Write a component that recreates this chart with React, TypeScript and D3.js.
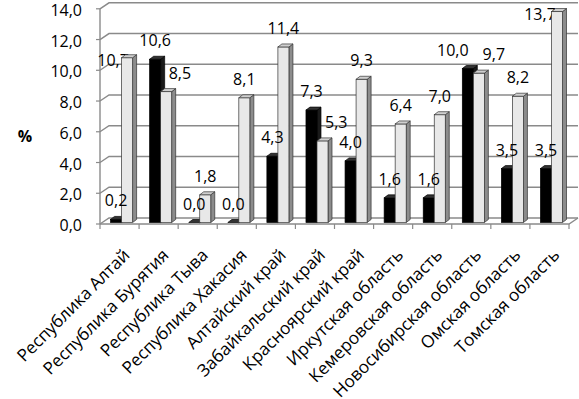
import React from "react";
import * as d3 from "d3";

const categories = [
  "Республика Алтай",
  "Республика Бурятия",
  "Республика Тыва",
  "Республика Хакасия",
  "Алтайский край",
  "Забайкальский край",
  "Красноярский край",
  "Иркутская область",
  "Кемеровская область",
  "Новосибирская область",
  "Омская область",
  "Томская область",
];
const seriesDark = [0.2, 10.6, 0.0, 0.0, 4.3, 7.3, 4.0, 1.6, 1.6, 10.0, 3.5, 3.5];
const seriesLight = [10.7, 8.5, 1.8, 8.1, 11.4, 5.3, 9.3, 6.4, 7.0, 9.7, 8.2, 13.7];
const yTicks = [0, 2, 4, 6, 8, 10, 12, 14];
const yTitle = "%";

const W = 579;
const H = 399;
const FONT = "'Open Sans', 'DejaVu Sans', sans-serif";
const VAL_SIZE = 16;
const CAT_SIZE = 17.2;

const fmt = (v: number) => v.toFixed(1).replace(".", ",");

let ctx: CanvasRenderingContext2D | null = null;
function measure(text: string, size: number) {
  if (!ctx) ctx = document.createElement("canvas").getContext("2d");
  if (!ctx) return text.length * size * 0.56;
  ctx.font = `${size}px 'Open Sans'`;
  return ctx.measureText(text).width;
}

type Lbl = { text: string; cx: number; cy: number; w: number; under: boolean };
const LH = 16;
function overlap(a: { x0: number; x1: number; y0: number; y1: number }, b: { x0: number; x1: number; y0: number; y1: number }) {
  return a.x0 < b.x1 && b.x0 < a.x1 && a.y0 < b.y1 && b.y0 < a.y1;
}
const box = (l: Lbl) => ({ x0: l.cx - l.w / 2, x1: l.cx + l.w / 2, y0: l.cy - LH / 2, y1: l.cy + LH / 2 });

export default function App() {
  const x = d3.scaleBand<string>().domain(categories).range([100, 569]).padding(0);
  const yF = d3.scaleLinear().domain([0, 14]).range([224, 8.8]);
  const yB = d3.scaleLinear().domain([0, 14]).range([222.5, 6.9]);
  const DX = 9, DY = -6; // wall depth
  const bdx = 4, bdy = -3; // bar depth
  const bw = x.bandwidth();
  const off = bw * 0.27;
  const barW = bw * 0.282;
  const base = yB(0);

  const bars = categories.map((c, i) => {
    const d0 = (x(c) as number) + off;
    const d1 = d0 + barW;
    const l0 = d1;
    const l1 = l0 + barW;
    return { d0, d1, l0, l1, dTop: yB(seriesDark[i]), lTop: yB(seriesLight[i]) };
  });

  // labels
  const darkLabels: Lbl[] = bars.map((b, i) => {
    const t = fmt(seriesDark[i]);
    return { text: t, cx: (b.d0 + b.d1) / 2, cy: b.dTop - 19, w: measure(t, VAL_SIZE), under: false };
  });
  const lightLabels: Lbl[] = [];
  bars.forEach((b, i) => {
    const t = fmt(seriesLight[i]);
    const w = measure(t, VAL_SIZE);
    const center = (b.l0 + b.l1) / 2;
    let l: Lbl = { text: t, cx: center, cy: b.lTop - 19, w, under: false };
    const fallback = () => ({ ...l, cx: center - 14, cy: b.lTop + 2.5, under: true });
    if (l.cy - LH / 2 < 0) {
      lightLabels.push({ ...fallback(), cx: center - 17 });
      return;
    }
    const darkBox = { x0: b.d0, x1: b.d1 + bdx, y0: b.dTop + bdy, y1: base };
    if (overlap(box(l), darkBox)) l = { ...l, cx: b.d1 + bdx + 4 + w / 2 };
    const others = [
      ...darkLabels.filter((_, j) => j !== i),
      ...lightLabels,
    ];
    if (others.some((o) => overlap(box(l), box(o)))) {
      lightLabels.push(fallback());
      return;
    }
    const d = darkLabels[i];
    if (overlap(box(l), box(d))) {
      const mid = (d.cx + l.cx) / 2;
      const sep = (d.w + l.w) / 2 + 14;
      d.cx = mid - sep / 2;
      l = { ...l, cx: mid + sep / 2 };
    }
    lightLabels.push(l);
  });
  const allLabels = [...darkLabels, ...lightLabels];

  const gridColor = "#8a8a8a";

  const barShape = (x0: number, x1: number, top: number, front: string, side: string, topC: string, stroke: string, key: string) => (
    <g key={key}>
      <polygon
        points={`${x1},${top} ${x1 + bdx},${top + bdy} ${x1 + bdx},${base + bdy} ${x1},${base}`}
        fill={side}
        stroke={stroke}
        strokeWidth={0.7}
        strokeLinejoin="round"
      />
      <rect x={x0} y={top} width={x1 - x0} height={Math.max(0, base - top)} fill={front} stroke={stroke} strokeWidth={0.7} />
      <polygon
        points={`${x0},${top} ${x0 + bdx},${top + bdy} ${x1 + bdx},${top + bdy} ${x1},${top}`}
        fill={topC}
        stroke={stroke}
        strokeWidth={0.7}
        strokeLinejoin="round"
      />
    </g>
  );

  const lblText = (l: Lbl, k: string) => (
    <text key={k} x={l.cx} y={l.cy} textAnchor="middle" dominantBaseline="central" fontSize={VAL_SIZE} fill="#000">
      {l.text}
    </text>
  );

  return (
    <svg
      width={W}
      height={H}
      style={{ position: "absolute", left: 0, top: 0, background: "#fff" }}
      fontFamily={FONT}
    >
      {/* gridlines: side wall diagonal + back wall horizontal */}
      {yTicks.map((t) => (
        <g key={`g${t}`}>
          <polyline
            points={`${100},${yF(t)} ${100 + DX},${yF(t) + DY} ${569 + DX},${yF(t) + DY}`}
            fill="none"
            stroke={gridColor}
            strokeWidth={1.4}
          />
          <line x1={96} x2={100} y1={yF(t)} y2={yF(t)} stroke={gridColor} strokeWidth={1.2} />
          <text x={82} y={yF(t) + 1} textAnchor="end" dominantBaseline="central" fontSize={VAL_SIZE}>
            {fmt(t)}
          </text>
        </g>
      ))}
      {/* left axis */}
      <line x1={100} x2={100} y1={yF(0)} y2={yF(14)} stroke={gridColor} strokeWidth={1.4} />
      {/* floor */}
      <polyline
        points={`${100},${yF(0)} ${569},${yF(0)} ${569 + DX},${yF(0) + DY}`}
        fill="none"
        stroke={gridColor}
        strokeWidth={1.4}
      />
      {d3.range(categories.length + 1).map((i) => {
        const xx = 100 + i * bw;
        return <line key={`t${i}`} x1={xx} x2={xx} y1={yF(0)} y2={yF(0) + 5} stroke={gridColor} strokeWidth={1.2} />;
      })}
      {/* labels drawn under bars */}
      {allLabels.filter((l) => l.under).map((l, i) => lblText(l, `u${i}`))}
      {/* bars */}
      {bars.map((b, i) => (
        <g key={`b${i}`}>
          {barShape(b.d0, b.d1, b.dTop, "#000", "#1a1a1a", "#333", "#000", `d${i}`)}
          {barShape(b.l0, b.l1, b.lTop, "#e8e8e8", "#8c8c8c", "#cfcfcf", "#333", `l${i}`)}
        </g>
      ))}
      {/* labels above */}
      {allLabels.filter((l) => !l.under).map((l, i) => lblText(l, `a${i}`))}
      {/* y title */}
      <text x={25} y={136} textAnchor="middle" dominantBaseline="central" fontSize={16} fontWeight="bold">
        {yTitle}
      </text>
      {/* category labels */}
      {categories.map((c) => {
        const cx = (x(c) as number) + bw / 2;
        return (
          <text
            key={c}
            transform={`translate(${cx + 1},${246}) rotate(-45)`}
            textAnchor="end"
            dominantBaseline="hanging"
            fontSize={CAT_SIZE}
          >
            {c}
          </text>
        );
      })}
    </svg>
  );
}
